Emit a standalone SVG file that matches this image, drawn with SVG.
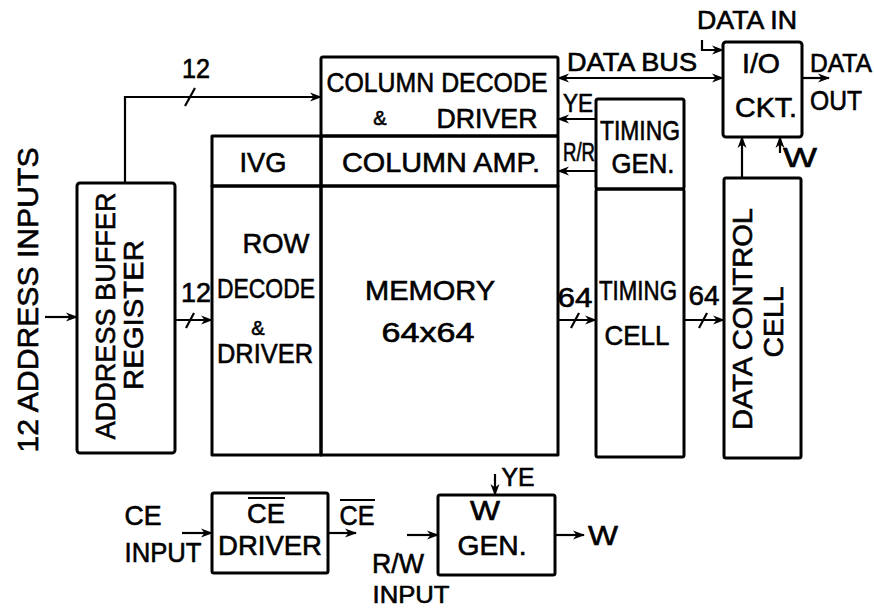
<svg xmlns="http://www.w3.org/2000/svg" width="874" height="609" viewBox="0 0 874 609">
<style>
  text { font-family: "Liberation Sans", Arial, sans-serif; fill: #000; stroke: #000; stroke-width: 0.6; text-anchor: middle; }
  .t { font-size: 28px; }
  .s { font-size: 25px; }
  .amp { font-size: 20px; }
  .box { fill: none; stroke: #000; stroke-width: 3; stroke-linejoin: round; }
  .c { fill: none; stroke: #000; stroke-width: 2.2; }
  .ov { stroke: #000; stroke-width: 2; }
</style>
<defs>
  <marker id="ah" viewBox="0 0 12 10" refX="11" refY="5" markerWidth="12" markerHeight="10" markerUnits="userSpaceOnUse" orient="auto-start-reverse">
    <path d="M0,0.5 L12,5 L0,9.5 L3.5,5 Z" fill="#000"/>
  </marker>
</defs>
<rect width="874" height="609" fill="#fff"/>

<g id="address-inputs-label">
  <text transform="rotate(-90 27 300)" x="27" y="311" textLength="305" lengthAdjust="spacingAndGlyphs" style="font-size:30px">12 ADDRESS INPUTS</text>
</g>

<g id="address-buffer-register">
  <rect class="box" x="77" y="183" width="98" height="270" rx="3"/>
  <text class="t" transform="rotate(-90 105 316)" x="105" y="326" textLength="247" lengthAdjust="spacingAndGlyphs">ADDRESS BUFFER</text>
  <text class="t" transform="rotate(-90 133 315)" x="133" y="325" textLength="150" lengthAdjust="spacingAndGlyphs">REGISTER</text>
</g>

<g id="ivg">
  <rect class="box" x="212" y="136" width="109" height="50"/>
  <text class="t" x="263" y="172" textLength="47" lengthAdjust="spacingAndGlyphs">IVG</text>
</g>

<g id="row-decode-driver">
  <rect class="box" x="212" y="186" width="109" height="269"/>
  <text class="t" x="276" y="253" textLength="67" lengthAdjust="spacingAndGlyphs">ROW</text>
  <text class="t" x="266" y="298" textLength="98" lengthAdjust="spacingAndGlyphs">DECODE</text>
  <text class="amp" x="258" y="335">&amp;</text>
  <text class="t" x="265" y="363" textLength="96" lengthAdjust="spacingAndGlyphs">DRIVER</text>
</g>

<g id="column-decode-driver">
  <rect class="box" x="321" y="57" width="237" height="79" rx="2"/>
  <text class="t" x="437" y="92" textLength="221" lengthAdjust="spacingAndGlyphs">COLUMN DECODE</text>
  <text class="amp" x="380" y="125">&amp;</text>
  <text class="t" x="487" y="128" textLength="101" lengthAdjust="spacingAndGlyphs">DRIVER</text>
</g>

<g id="column-amp">
  <rect class="box" x="321" y="136" width="237" height="50"/>
  <text class="t" x="441" y="172" textLength="198" lengthAdjust="spacingAndGlyphs">COLUMN AMP.</text>
</g>

<g id="memory">
  <rect class="box" x="321" y="186" width="237" height="269"/>
  <text class="t" x="430" y="300" textLength="130" lengthAdjust="spacingAndGlyphs">MEMORY</text>
  <text class="t" x="428" y="342" textLength="93" lengthAdjust="spacingAndGlyphs">64x64</text>
</g>

<g id="timing-gen">
  <rect class="box" x="596" y="99" width="88" height="90" rx="2"/>
  <text class="t" x="640" y="140" textLength="80" lengthAdjust="spacingAndGlyphs">TIMING</text>
  <text class="t" x="643" y="173" textLength="63" lengthAdjust="spacingAndGlyphs">GEN.</text>
</g>

<g id="timing-cell">
  <rect class="box" x="596" y="189" width="88" height="268" rx="2"/>
  <text class="t" x="638" y="300" textLength="78" lengthAdjust="spacingAndGlyphs">TIMING</text>
  <text class="t" x="637" y="345" textLength="65" lengthAdjust="spacingAndGlyphs">CELL</text>
</g>

<g id="data-control-cell">
  <rect class="box" x="724" y="178" width="77" height="280" rx="2"/>
  <text class="t" transform="rotate(-90 742 319)" x="742" y="329" textLength="222" lengthAdjust="spacingAndGlyphs">DATA CONTROL</text>
  <text class="t" transform="rotate(-90 773 322)" x="773" y="332" textLength="71" lengthAdjust="spacingAndGlyphs">CELL</text>
</g>

<g id="io-ckt">
  <rect class="box" x="723" y="42" width="79" height="95" rx="3"/>
  <text class="t" x="761" y="73" textLength="38" lengthAdjust="spacingAndGlyphs">I/O</text>
  <text class="t" x="766" y="117" textLength="62" lengthAdjust="spacingAndGlyphs">CKT.</text>
</g>

<g id="ce-driver">
  <rect class="box" x="212" y="493" width="116" height="80" rx="2"/>
  <text class="t" x="266" y="523" textLength="38" lengthAdjust="spacingAndGlyphs">CE</text>
  <line class="ov" x1="248" y1="498" x2="285" y2="498"/>
  <text class="t" x="270" y="555" textLength="104" lengthAdjust="spacingAndGlyphs">DRIVER</text>
</g>

<g id="w-gen">
  <rect class="box" x="438" y="495" width="117" height="80" rx="2"/>
  <text class="t" x="485" y="520" textLength="30" lengthAdjust="spacingAndGlyphs">W</text>
  <text class="t" x="492" y="555" textLength="69" lengthAdjust="spacingAndGlyphs">GEN.</text>
</g>

<g id="connectors">
  <line class="c" x1="45" y1="317" x2="77" y2="317" marker-end="url(#ah)"/>
  <path class="c" d="M125,183 V97 H321" marker-end="url(#ah)"/>
  <line class="c" x1="185" y1="106" x2="195" y2="88"/>
  <line class="c" x1="175" y1="320" x2="212" y2="320" marker-end="url(#ah)"/>
  <line class="c" x1="186" y1="328" x2="194" y2="313"/>
  <line class="c" x1="558" y1="320" x2="596" y2="320" marker-end="url(#ah)"/>
  <line class="c" x1="571" y1="328" x2="579" y2="313"/>
  <line class="c" x1="684" y1="320" x2="724" y2="320" marker-end="url(#ah)"/>
  <line class="c" x1="699" y1="328" x2="707" y2="313"/>
  <line class="c" x1="558" y1="78" x2="723" y2="78" marker-start="url(#ah)" marker-end="url(#ah)"/>
  <line class="c" x1="596" y1="119" x2="558" y2="119" marker-end="url(#ah)"/>
  <line class="c" x1="596" y1="171" x2="558" y2="171" marker-end="url(#ah)"/>
  <path class="c" d="M702,40 V50 H723" marker-end="url(#ah)"/>
  <line class="c" x1="802" y1="78" x2="829" y2="78" marker-end="url(#ah)"/>
  <line class="c" x1="742" y1="178" x2="742" y2="137" marker-end="url(#ah)"/>
  <line class="c" x1="780" y1="153" x2="780" y2="137" marker-end="url(#ah)"/>
  <line class="c" x1="182" y1="533" x2="212" y2="533" marker-end="url(#ah)"/>
  <line class="c" x1="328" y1="533" x2="356" y2="533" marker-end="url(#ah)"/>
  <line class="c" x1="495" y1="474" x2="495" y2="495" marker-end="url(#ah)"/>
  <line class="c" x1="407" y1="535" x2="438" y2="535" marker-end="url(#ah)"/>
  <line class="c" x1="555" y1="535" x2="584" y2="535" marker-end="url(#ah)"/>
</g>

<g id="labels">
  <text class="t" x="196" y="78" textLength="28" lengthAdjust="spacingAndGlyphs">12</text>
  <text class="t" x="196" y="302" textLength="30" lengthAdjust="spacingAndGlyphs">12</text>
  <text class="t" x="575" y="307" textLength="35" lengthAdjust="spacingAndGlyphs">64</text>
  <text class="t" x="704" y="305" textLength="31" lengthAdjust="spacingAndGlyphs">64</text>
  <text class="s" x="632" y="71" textLength="130" lengthAdjust="spacingAndGlyphs">DATA BUS</text>
  <text class="s" x="578" y="112" textLength="30" lengthAdjust="spacingAndGlyphs">YE</text>
  <text class="s" x="579" y="161" textLength="32" lengthAdjust="spacingAndGlyphs">R/R</text>
  <text class="s" x="747" y="29" textLength="100" lengthAdjust="spacingAndGlyphs">DATA IN</text>
  <text class="s" x="841" y="72" textLength="62" lengthAdjust="spacingAndGlyphs">DATA</text>
  <text class="t" x="836" y="110" textLength="52" lengthAdjust="spacingAndGlyphs">OUT</text>
  <text class="t" x="800" y="167" textLength="34" lengthAdjust="spacingAndGlyphs">W</text>
  <text class="t" x="143" y="525" textLength="37" lengthAdjust="spacingAndGlyphs">CE</text>
  <text class="t" x="163" y="562" textLength="77" lengthAdjust="spacingAndGlyphs">INPUT</text>
  <text class="t" x="357" y="525" textLength="35" lengthAdjust="spacingAndGlyphs">CE</text>
  <line class="ov" x1="340" y1="500" x2="375" y2="500"/>
  <text class="s" x="518" y="486" textLength="33" lengthAdjust="spacingAndGlyphs">YE</text>
  <text class="t" x="603" y="545" textLength="30" lengthAdjust="spacingAndGlyphs">W</text>
  <text class="t" x="398" y="573" textLength="52" lengthAdjust="spacingAndGlyphs">R/W</text>
  <text class="s" x="411" y="603" style="font-size:24px" textLength="77" lengthAdjust="spacingAndGlyphs">INPUT</text>
</g>
</svg>
